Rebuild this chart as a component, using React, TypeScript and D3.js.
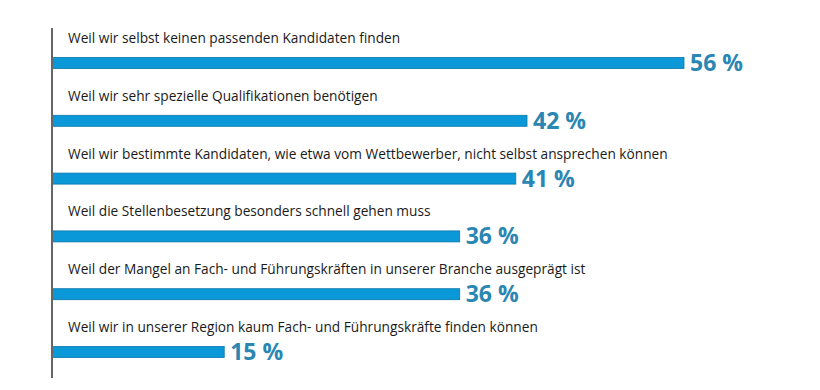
import React, { useRef, useEffect } from 'react';
import * as d3 from 'd3';

const reasons = [
  'Weil wir selbst keinen passenden Kandidaten finden',
  'Weil wir sehr spezielle Qualifikationen benötigen',
  'Weil wir bestimmte Kandidaten, wie etwa vom Wettbewerber, nicht selbst ansprechen können',
  'Weil die Stellenbesetzung besonders schnell gehen muss',
  'Weil der Mangel an Fach- und Führungskräften in unserer Branche ausgeprägt ist',
  'Weil wir in unserer Region kaum Fach- und Führungskräfte finden können',
];
const shares = [56, 42, 41, 36, 36, 15];

const BAR = '#0b98d8';
const BAR_EDGE = '#0b77aa';
const NUM = '#2a86b3';

export default function App() {
  const ref = useRef<SVGSVGElement | null>(null);

  useEffect(() => {
    const svg = d3.select(ref.current);
    svg.selectAll('*').remove();

    const W = 820;
    const H = 390;
    const axisX = 52;
    const barH = 11;

    const x = d3.scaleLinear().domain([0, 56]).range([56, 684]);
    // bar centres
    const y = d3.scalePoint<number>()
      .domain(d3.range(reasons.length))
      .range([63, 352]);

    svg.attr('width', W).attr('height', H);

    const rows = svg.selectAll('g.row')
      .data(shares)
      .join('g')
      .attr('class', 'row');

    // bars
    rows.append('rect')
      .attr('x', axisX)
      .attr('y', (_, i) => y(i)! - barH / 2)
      .attr('width', d => x(d) - axisX)
      .attr('height', barH)
      .attr('fill', BAR)
      .attr('stroke', BAR_EDGE)
      .attr('stroke-width', 0.8);

    // question text
    rows.append('text')
      .attr('x', 68)
      .attr('y', (_, i) => y(i)! - 20)
      .attr('font-family', '"Open Sans", sans-serif')
      .attr('font-size', 13.7)
      .attr('fill', '#1a1a1a')
      .text((_, i) => reasons[i]);

    // value labels
    rows.append('text')
      .attr('x', d => x(d) + 6)
      .attr('y', (_, i) => y(i)! + 8)
      .attr('font-family', '"Open Sans", sans-serif')
      .attr('font-size', 23)
      .attr('font-weight', 'bold')
      .attr('fill', NUM)
      .text(d => `${d} %`);

    // left axis line
    svg.append('line')
      .attr('x1', axisX)
      .attr('x2', axisX)
      .attr('y1', 28)
      .attr('y2', 378)
      .attr('stroke', '#666')
      .attr('stroke-width', 2);
  }, []);

  return (
    <svg
      ref={ref}
      style={{ position: 'absolute', left: 0, top: 0, background: '#fff' }}
    />
  );
}
